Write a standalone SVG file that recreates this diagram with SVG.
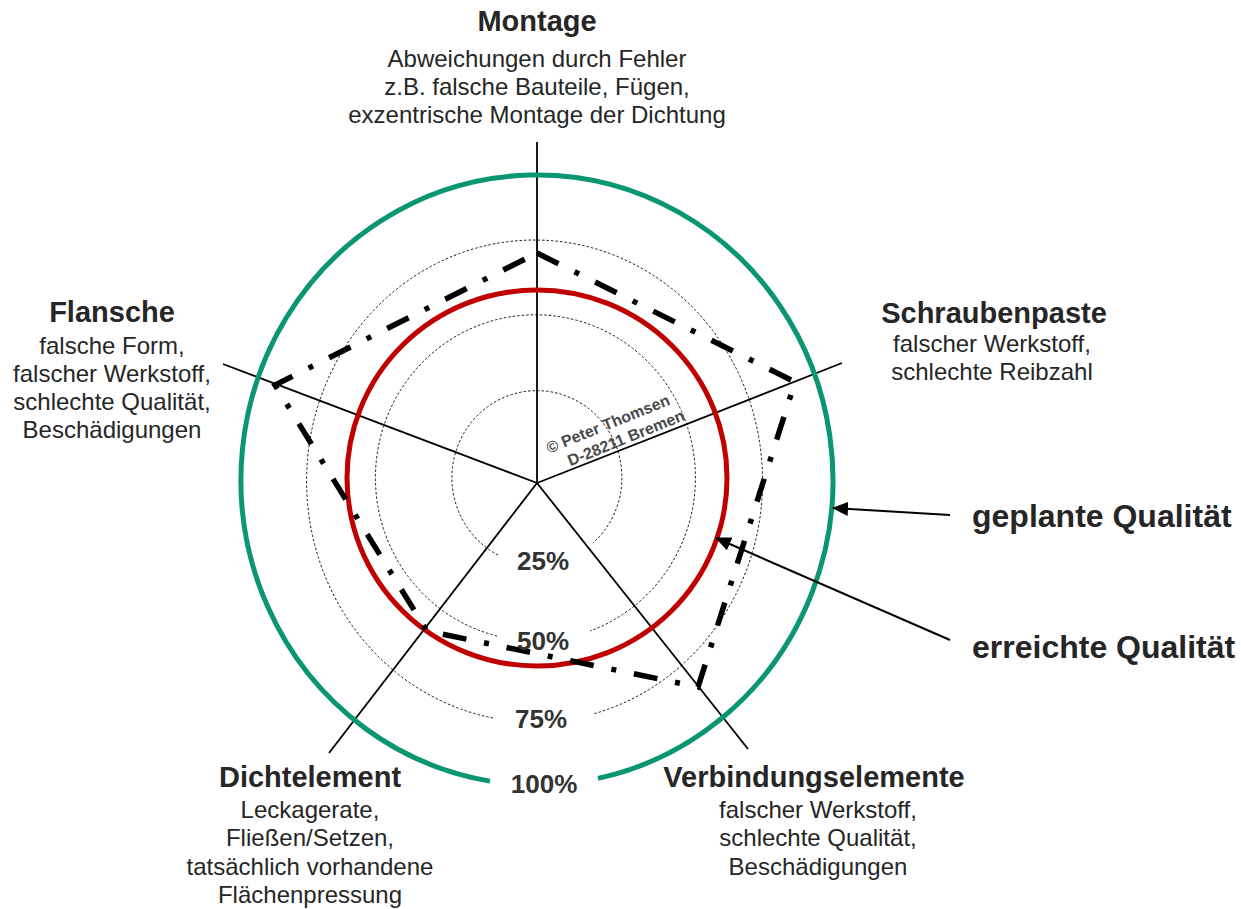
<svg xmlns="http://www.w3.org/2000/svg" width="1241" height="909" viewBox="0 0 1241 909">
<style>
.t{font-family:"Liberation Sans",Arial,sans-serif;fill:#262626;text-anchor:middle}
.b{font-weight:bold;font-size:29px}
.n{font-size:24px}
.p{font-family:"Liberation Sans",Arial,sans-serif;font-weight:bold;font-size:26px;fill:#333;text-anchor:middle}
.q{font-family:"Liberation Sans",Arial,sans-serif;font-weight:bold;font-size:32px;fill:#262626}
.ax{stroke:#000;stroke-width:1.8;fill:none}
.dot{stroke:#000;stroke-width:0.9;fill:none;stroke-dasharray:2.5 2}
.cp{font-family:"Liberation Sans",Arial,sans-serif;font-weight:bold;font-size:16px;fill:#4a4a4a;text-anchor:middle}
.arr{stroke:#000;stroke-width:2;fill:none;marker-end:url(#ah)}
</style>
<defs>
<marker id="ah" markerUnits="userSpaceOnUse" markerWidth="16" markerHeight="14" refX="15" refY="7" orient="auto">
<path d="M0,0 L16,7 L0,14 Z" fill="#000"/>
</marker>
</defs>
<rect width="1241" height="909" fill="#fff"/>
<g id="chart">
<path class="dot" d="M498,555 A85,87 0 1 1 593,543"/>
<path class="dot" d="M497,636 A160,163 0 1 1 590,631"/>
<path class="dot" d="M493,718 A228,241 0 1 1 593,714"/>
<line class="ax" x1="537" y1="483" x2="537" y2="142"/>
<line class="ax" x1="537" y1="483" x2="842" y2="363"/>
<line class="ax" x1="537" y1="483" x2="223" y2="364"/>
<line class="ax" x1="537" y1="483" x2="748" y2="749"/>
<line class="ax" x1="537" y1="483" x2="329" y2="753"/>
<path d="M598,778.4 A296,305 0 1 0 490,781.1" fill="none" stroke="#0a9673" stroke-width="5"/>
<ellipse cx="537" cy="478" rx="190" ry="188" fill="none" stroke="#c00000" stroke-width="5"/>
<polygon points="537,253 795,382 698,687 427,631 275,385" fill="none" stroke="#000" stroke-width="5.5" stroke-dasharray="24 18 5 18"/>
<text class="cp" transform="translate(610,429) rotate(-22)">© Peter Thomsen</text>
<text class="cp" transform="translate(628,443) rotate(-22)">D-28211 Bremen</text>
<text class="p" x="543" y="570">25%</text>
<text class="p" x="543" y="650">50%</text>
<text class="p" x="541" y="728">75%</text>
<text class="p" x="544" y="793">100%</text>
</g>
<g id="node-montage">
<text class="t b" x="537" y="31">Montage</text>
<text class="t n" x="537" y="67">Abweichungen durch Fehler</text>
<text class="t n" x="537" y="95">z.B. falsche Bauteile, Fügen,</text>
<text class="t n" x="537" y="123">exzentrische Montage der Dichtung</text>
</g>
<g id="node-flansche">
<text class="t b" x="112" y="322">Flansche</text>
<text class="t n" x="112" y="354">falsche Form,</text>
<text class="t n" x="112" y="382">falscher Werkstoff,</text>
<text class="t n" x="112" y="410">schlechte Qualität,</text>
<text class="t n" x="112" y="438">Beschädigungen</text>
</g>
<g id="node-schraubenpaste">
<text class="t b" x="994" y="323">Schraubenpaste</text>
<text class="t n" x="992" y="352">falscher Werkstoff,</text>
<text class="t n" x="992" y="380">schlechte Reibzahl</text>
</g>
<g id="node-dichtelement">
<text class="t b" x="310" y="787">Dichtelement</text>
<text class="t n" x="310" y="818">Leckagerate,</text>
<text class="t n" x="310" y="846">Fließen/Setzen,</text>
<text class="t n" x="310" y="875">tatsächlich vorhandene</text>
<text class="t n" x="310" y="903">Flächenpressung</text>
</g>
<g id="node-verbindungselemente">
<text class="t b" x="814" y="787">Verbindungselemente</text>
<text class="t n" x="818" y="818">falscher Werkstoff,</text>
<text class="t n" x="818" y="846">schlechte Qualität,</text>
<text class="t n" x="818" y="875">Beschädigungen</text>
</g>
<g id="node-geplant">
<text class="q" x="972" y="527">geplante Qualität</text>
</g>
<g id="node-erreicht">
<text class="q" x="972" y="658">erreichte Qualität</text>
</g>
<g id="connectors">
<line class="arr" x1="950" y1="515" x2="833" y2="508"/>
<line class="arr" x1="950" y1="640" x2="716" y2="538"/>
</g>
</svg>
